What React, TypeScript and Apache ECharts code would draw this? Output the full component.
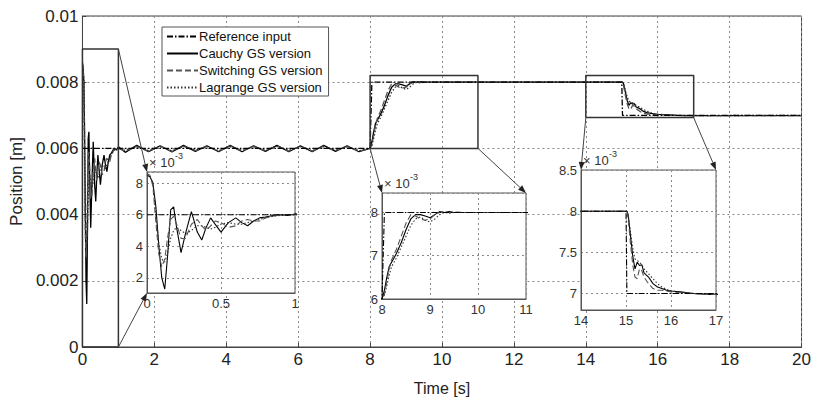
import React, { useEffect, useRef } from 'react';
import * as echarts from 'echarts';

const FONT = '"Liberation Sans", Arial, Helvetica, sans-serif';

const seriesNames = ['Reference input', 'Cauchy GS version', 'Switching GS version', 'Lagrange GS version'];

// Reference input (x 10^-3 m)
const refT = [0, 8.0, 8.05, 15.0, 15.02, 20];
const refV = [6, 6, 8, 8, 7, 7];

// Initial transient, t = 0..1 s (x 10^-3 m)
const tInit = [0, 0.02, 0.04, 0.06, 0.08, 0.10, 0.12, 0.14, 0.16, 0.18, 0.20, 0.23, 0.26, 0.30, 0.34, 0.37, 0.40, 0.43, 0.46, 0.50, 0.55, 0.60, 0.64, 0.68, 0.72, 0.76, 0.80, 0.85, 0.90, 0.95, 1.00];
const cauchyInit = [8.5, 8.4, 8.0, 6.5, 4.0, 2.0, 1.3, 3.5, 6.3, 6.5, 5.2, 3.6, 4.8, 6.2, 4.9, 4.4, 5.2, 5.8, 5.4, 4.9, 5.5, 5.8, 5.5, 5.3, 5.6, 5.8, 5.85, 5.95, 6.0, 5.95, 6.05];
const switchingInit = [8.6, 8.5, 7.8, 5.5, 3.5, 2.7, 3.2, 4.6, 5.7, 5.9, 5.4, 4.5, 4.5, 5.4, 5.7, 5.3, 5.0, 5.3, 5.6, 5.5, 5.2, 5.3, 5.6, 5.7, 5.6, 5.6, 5.8, 5.9, 6.0, 6.0, 6.0];
const lagrangeInit = [8.5, 8.45, 8.0, 6.0, 4.2, 3.2, 3.0, 3.6, 4.5, 5.0, 5.2, 5.0, 4.8, 5.0, 5.3, 5.3, 5.2, 5.1, 5.2, 5.4, 5.5, 5.4, 5.4, 5.5, 5.6, 5.7, 5.8, 5.9, 5.95, 6.0, 6.0];

// Ripple around 6 mm, t = 1..8 s
const tRipple = [1.0, 1.19, 1.51, 1.84, 2.16, 2.49, 2.81, 3.14, 3.46, 3.79, 4.11, 4.44, 4.76, 5.09, 5.41, 5.74, 6.06, 6.39, 6.71, 7.04, 7.36, 7.69, 8.0];
const cauchyRipple = [6.05, 5.88, 6.09, 5.90, 6.08, 5.89, 6.09, 5.91, 6.08, 5.90, 6.09, 5.90, 6.08, 5.91, 6.09, 5.90, 6.08, 5.90, 6.09, 5.91, 6.08, 5.90, 6.0];
const switchingRipple = [6.0, 5.92, 6.06, 5.92, 6.07, 5.91, 6.06, 5.93, 6.06, 5.92, 6.07, 5.92, 6.06, 5.93, 6.07, 5.92, 6.06, 5.92, 6.07, 5.93, 6.06, 5.92, 6.0];
const lagrangeRipple = [6.0, 5.94, 6.05, 5.93, 6.05, 5.93, 6.06, 5.94, 6.05, 5.93, 6.05, 5.94, 6.05, 5.93, 6.06, 5.94, 6.05, 5.93, 6.05, 5.94, 6.05, 5.93, 6.0];

// Step up to 8 mm, t = 8..11 s
const tUp = [8.0, 8.05, 8.1, 8.15, 8.2, 8.3, 8.4, 8.5, 8.6, 8.7, 8.8, 8.9, 9.0, 9.1, 9.2, 9.3, 9.4, 9.5, 9.7, 10.0, 10.5, 11.0];
const cauchyUp = [6.0, 6.2, 6.5, 6.75, 6.85, 7.05, 7.3, 7.6, 7.85, 7.95, 7.95, 7.92, 7.88, 7.95, 8.02, 8.0, 8.02, 8.0, 8.0, 8.0, 8.0, 8.0];
const switchingUp = [6.0, 6.1, 6.4, 6.7, 6.9, 7.15, 7.45, 7.75, 7.95, 7.92, 7.85, 7.82, 7.85, 7.95, 8.0, 8.02, 8.0, 8.01, 8.0, 8.0, 8.0, 8.0];
const lagrangeUp = [6.0, 6.1, 6.3, 6.55, 6.75, 6.95, 7.2, 7.45, 7.7, 7.85, 7.9, 7.82, 7.78, 7.85, 7.95, 8.0, 7.98, 8.0, 8.0, 8.0, 8.0, 8.0];

// Step down to 7 mm, t = 14..17 s
const tDown = [14.0, 14.5, 15.0, 15.02, 15.05, 15.1, 15.15, 15.2, 15.25, 15.3, 15.35, 15.4, 15.5, 15.6, 15.7, 15.8, 15.9, 16.0, 16.2, 16.5, 16.8, 17.0];
const cauchyDown = [8.0, 8.0, 8.0, 8.0, 7.95, 7.7, 7.45, 7.3, 7.38, 7.34, 7.35, 7.25, 7.2, 7.12, 7.08, 7.06, 7.04, 7.03, 7.02, 7.0, 6.99, 6.99];
const switchingDown = [8.0, 8.0, 8.0, 8.0, 7.9, 7.6, 7.35, 7.2, 7.18, 7.3, 7.28, 7.2, 7.12, 7.06, 7.04, 7.04, 7.03, 7.02, 7.01, 7.0, 6.99, 6.99];
const lagrangeDown = [8.0, 8.0, 8.0, 8.0, 7.95, 7.75, 7.55, 7.42, 7.4, 7.38, 7.35, 7.3, 7.24, 7.18, 7.12, 7.08, 7.05, 7.03, 7.02, 7.0, 7.0, 6.99];

// End of record
const tTail = [20];
const cauchyTail = [6.99];
const switchingTail = [6.99];
const lagrangeTail = [7.0];

// Zoom boxes in the main plot (x in s, y in 10^-3 m)
const boxX0 = [0, 8, 14];
const boxX1 = [1, 11, 17];
const boxY0 = [0, 6.0, 6.93];
const boxY1 = [9.0, 8.2, 8.2];

// Inset axis ranges
const insetXMin = [0, 8, 14];
const insetXMax = [1, 11, 17];
const insetXInterval = [0.5, 1, 1];
const insetYMin = [1.05, 6, 6.8];
const insetYMax = [8.7, 8.45, 8.5];

const insetLayout = [
  { left: 147, top: 172, width: 148, height: 121 },
  { left: 382, top: 193, width: 144, height: 106 },
  { left: 581, top: 170, width: 135, height: 140 },
];

function build(
  init: number[], ripple: number[], up: number[], down: number[], tail: number[]
): [number, number][] {
  const out: [number, number][] = [];
  tInit.forEach((t, i) => out.push([t, init[i]]));
  tRipple.forEach((t, i) => { if (i > 0) out.push([t, ripple[i]]); });
  tUp.forEach((t, i) => { if (i > 0) out.push([t, up[i]]); });
  tDown.forEach((t, i) => out.push([t, down[i]]));
  tTail.forEach((t, i) => out.push([t, tail[i]]));
  return out;
}

const refData: [number, number][] = refT.map((t, i) => [t, refV[i]]);
const cauchyData = build(cauchyInit, cauchyRipple, cauchyUp, cauchyDown, cauchyTail);
const switchingData = build(switchingInit, switchingRipple, switchingUp, switchingDown, switchingTail);
const lagrangeData = build(lagrangeInit, lagrangeRipple, lagrangeUp, lagrangeDown, lagrangeTail);
const allData = [refData, cauchyData, switchingData, lagrangeData];

const lineColors = ['#000', '#000', '#555', '#333'];
const lineTypes: any[] = [[6, 2, 1.5, 2], 'solid', [6, 3], [1.5, 2]];

const gridDot = { color: '#888', width: 1, type: [2, 3] as any };

export default function App() {
  const ref = useRef<HTMLDivElement>(null);
  useEffect(() => {
    if (!ref.current) return;
    const chart = echarts.init(ref.current, undefined, { renderer: 'svg' });

    const grids: any[] = [
      { left: 82, top: 16, width: 722, height: 342, show: true, borderColor: '#444', borderWidth: 1, backgroundColor: '#fff', z: 0 },
      ...insetLayout.map((l) => ({ ...l, show: true, borderColor: '#555', borderWidth: 1, backgroundColor: '#fff', z: 5 })),
    ];

    const xAxes: any[] = [
      {
        gridIndex: 0, type: 'value', min: 0, max: 20, interval: 2,
        name: 'Time [s]', nameLocation: 'middle', nameGap: 33,
        nameTextStyle: { fontSize: 16, color: '#222', fontFamily: FONT },
        axisLine: { lineStyle: { color: '#444' } },
        axisTick: { inside: true, length: 4, lineStyle: { color: '#444' } },
        axisLabel: { fontSize: 17, color: '#222', margin: 4, fontFamily: FONT },
        splitLine: { show: true, lineStyle: gridDot },
      },
      ...insetLayout.map((_, i) => ({
        gridIndex: i + 1, type: 'value', min: insetXMin[i], max: insetXMax[i], interval: insetXInterval[i], z: 6,
        axisLine: { lineStyle: { color: '#555' } },
        axisTick: { show: false },
        axisLabel: { fontSize: 13, color: '#333', margin: 4, fontFamily: FONT },
        splitLine: { show: true, lineStyle: gridDot },
      })),
    ];

    const yAxes: any[] = [
      {
        gridIndex: 0, type: 'value', min: 0, max: 0.01, interval: 0.002,
        name: 'Position [m]', nameLocation: 'middle', nameGap: 52,
        nameTextStyle: { fontSize: 17, color: '#222', fontFamily: FONT },
        axisLine: { lineStyle: { color: '#444' } },
        axisTick: { inside: true, length: 4, lineStyle: { color: '#444' } },
        axisLabel: { fontSize: 17, color: '#222', margin: 4, fontFamily: FONT },
        splitLine: { show: true, lineStyle: gridDot },
      },
      ...insetLayout.map((_, i) => ({
        gridIndex: i + 1, type: 'value', min: insetYMin[i], max: insetYMax[i], z: 6,
        ...(i === 1 ? { interval: 1 } : { splitNumber: 4 }),
        axisLine: { lineStyle: { color: '#555' } },
        axisTick: { show: false },
        axisLabel: {
          fontSize: 13, color: '#333', margin: 4, fontFamily: FONT,
          showMinLabel: i === 1, showMaxLabel: i === 2,
        },
        splitLine: { show: true, lineStyle: gridDot },
      })),
    ];

    const series: any[] = [];
    for (let g = 0; g < 4; g++) {
      seriesNames.forEach((name, k) => {
        series.push({
          type: 'line', name, xAxisIndex: g, yAxisIndex: g,
          data: g === 0 ? allData[k].map(([t, v]) => [t, v * 1e-3]) : allData[k],
          symbol: 'none', showSymbol: false, clip: true,
          lineStyle: { color: lineColors[k], width: g === 0 ? 1.3 : 1.1, type: lineTypes[k] },
          itemStyle: { color: lineColors[k] },
          z: g === 0 ? 3 + (k === 0 ? 1 : 0) : 7 + (k === 0 ? 1 : 0),
          silent: true,
        });
      });
    }
    boxX0.forEach((x0, i) => {
      const x1 = boxX1[i];
      const y0 = boxY0[i] * 1e-3;
      const y1 = boxY1[i] * 1e-3;
      series.push({
        type: 'line', name: 'box' + i, xAxisIndex: 0, yAxisIndex: 0,
        data: [[x0, y0], [x1, y0], [x1, y1], [x0, y1], [x0, y0]],
        symbol: 'none', lineStyle: { color: '#333', width: 1.5 }, z: 4, silent: true,
      });
    });

    const option: any = {
      animation: false,
      backgroundColor: '#fff',
      textStyle: { fontFamily: FONT },
      grid: grids,
      xAxis: xAxes,
      yAxis: yAxes,
      legend: {
        data: seriesNames,
        orient: 'vertical',
        left: 162, top: 27,
        itemWidth: 31, itemHeight: 14, itemGap: 4,
        padding: [3, 6, 2, 4],
        borderColor: '#555', borderWidth: 1, backgroundColor: '#fff',
        itemStyle: { opacity: 0, borderWidth: 0 },
        textStyle: { fontSize: 13, color: '#111', fontFamily: FONT, padding: [0, 0, 0, -4] },
        selectedMode: false,
        z: 9,
      },
      series,
    };
    chart.setOption(option);

    const px = (gi: number, x: number, y: number) => chart.convertToPixel({ gridIndex: gi } as any, [x, y]) as number[];
    const graphics: any[] = [];
    const arrow = (a: number[], b: number[]) => {
      const ang = Math.atan2(b[1] - a[1], b[0] - a[0]);
      const L = 8, W = 3;
      const bx = b[0] - L * Math.cos(ang), by = b[1] - L * Math.sin(ang);
      const nx = -Math.sin(ang) * W, ny = Math.cos(ang) * W;
      graphics.push({ type: 'line', shape: { x1: a[0], y1: a[1], x2: bx, y2: by }, style: { stroke: '#444', lineWidth: 1 }, z: 10, silent: true });
      graphics.push({ type: 'polygon', shape: { points: [[b[0], b[1]], [bx + nx, by + ny], [bx - nx, by - ny]] }, style: { fill: '#222' }, z: 10, silent: true });
    };
    // box 1: right edge corners -> inset 1 left corners
    arrow(px(0, boxX1[0], boxY1[0] * 1e-3), px(1, insetXMin[0], insetYMax[0]));
    arrow(px(0, boxX1[0], boxY0[0] * 1e-3), px(1, insetXMin[0], insetYMin[0]));
    // box 2 bottom corners -> inset 2 top corners
    arrow(px(0, boxX0[1], boxY0[1] * 1e-3), px(2, insetXMin[1], insetYMax[1]));
    arrow(px(0, boxX1[1], boxY0[1] * 1e-3), px(2, insetXMax[1], insetYMax[1]));
    // box 3 bottom corners -> inset 3 top corners
    arrow(px(0, boxX0[2], boxY0[2] * 1e-3), px(3, insetXMin[2], insetYMax[2]));
    arrow(px(0, boxX1[2], boxY0[2] * 1e-3), px(3, insetXMax[2], insetYMax[2]));

    // exponent labels "× 10^-3"
    for (let i = 0; i < 3; i++) {
      const c = px(i + 1, insetXMin[i], insetYMax[i]);
      graphics.push({ type: 'text', x: c[0] + 2, y: c[1] - 16, z: i === 0 ? 1 : 9, silent: true,
        style: { text: '× 10', fontSize: 13, fill: '#333', fontFamily: FONT } });
      graphics.push({ type: 'text', x: c[0] + 28, y: c[1] - 21, z: i === 0 ? 1 : 9, silent: true,
        style: { text: '-3', fontSize: 9, fill: '#333', fontFamily: FONT } });
    }
    chart.setOption({ graphic: graphics });

    return () => chart.dispose();
  }, []);
  return <div ref={ref} style={{ position: 'absolute', left: 0, top: 0, width: 814, height: 401, background: '#fff' }} />;
}
